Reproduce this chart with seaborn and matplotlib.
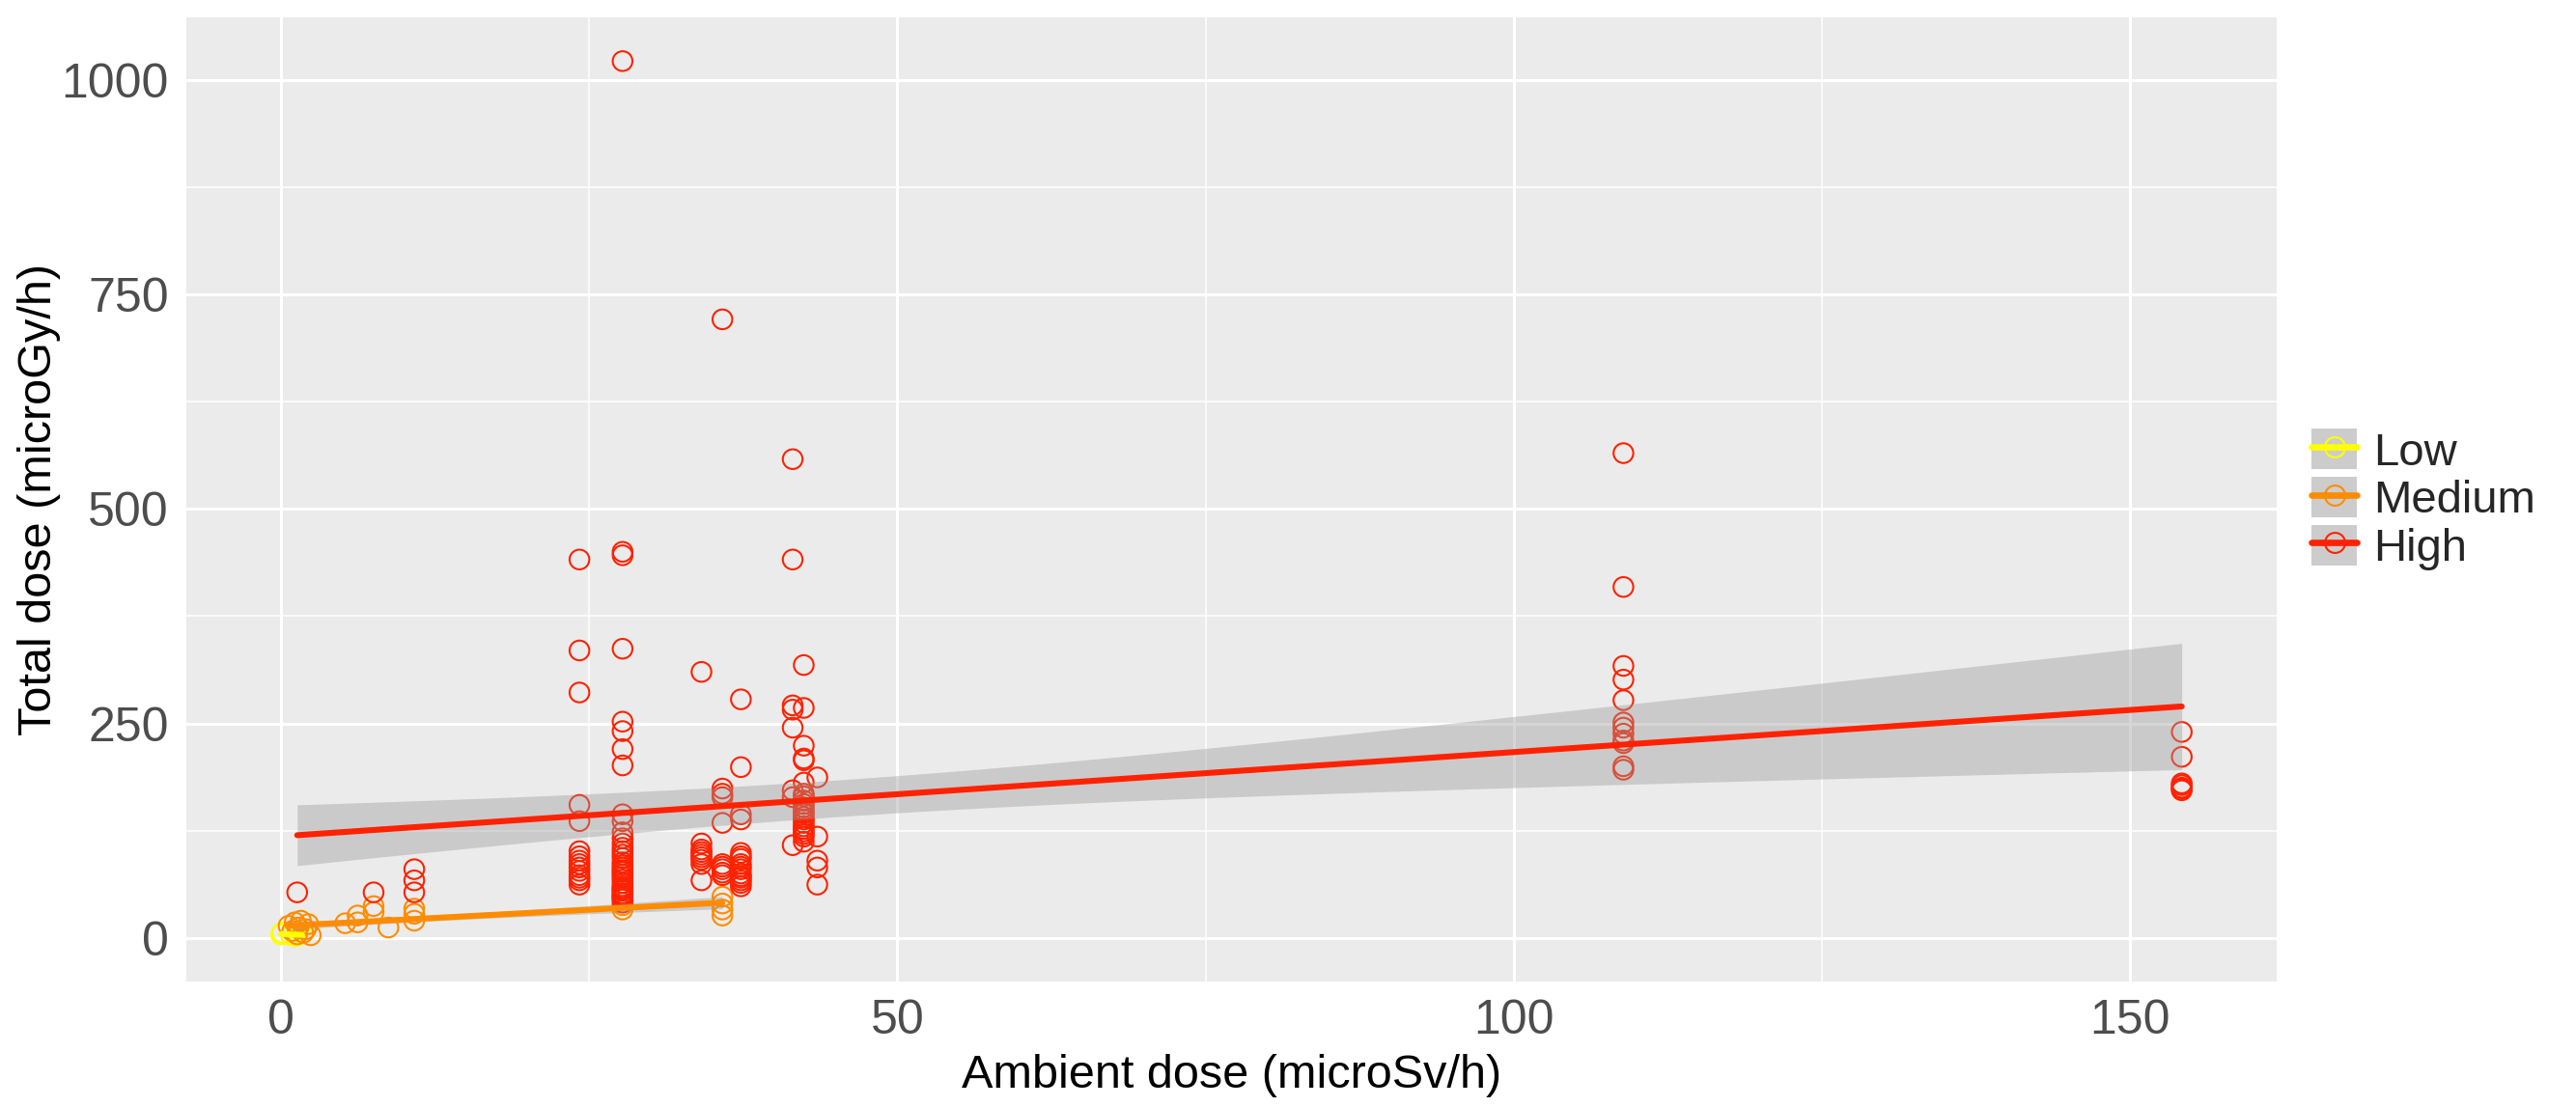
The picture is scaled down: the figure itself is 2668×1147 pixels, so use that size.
"""
Ambient dose vs total dose, coloured by dose category, with linear fits.
"""

import numpy as np
import pandas as pd
import matplotlib
matplotlib.use("Agg")
import matplotlib.pyplot as plt
from matplotlib.lines import Line2D
from matplotlib.patches import Patch
import seaborn as sns

# ---------------------------------------------------------------------------
# Data
# ---------------------------------------------------------------------------
LEVELS = ["Low", "Medium", "High"]
COLOURS = ["#FFFF00", "#FF8C00", "#FF2200"]

low_x = [0.0, 0.1, 0.8, 1.2, 1.7]
low_y = [4, 6, 3, 2, 5]

medium_x = [0.6, 0.9, 1.1, 1.3, 1.4, 1.6, 1.8, 2.0, 2.2, 2.4,
            5.2, 6.2, 6.2, 7.5, 7.5, 8.7, 10.8, 10.8, 10.8,
            27.7, 27.7, 27.7, 35.8, 35.8, 35.8, 35.8]
medium_y = [14, 8, 18, 4, 12, 20, 6, 10, 16, 3,
            17, 18, 26, 30, 37, 12, 20, 28, 34,
            33, 38, 45, 26, 33, 40, 48]

high_cols = [1.3, 7.5, 10.8, 24.2, 27.7, 34.1, 35.8, 37.3, 41.5, 42.4, 43.5, 108.9, 154.2]
high_vals = [
    [53],
    [53],
    [80, 67, 53],
    [441, 335, 286, 155, 136, 101, 95, 90, 86, 82, 78, 73, 70, 67, 62],
    [1022, 450, 446, 337, 252, 241, 220, 201, 144, 136, 123, 116, 110, 105,
     101, 97, 93, 88, 85, 82, 79, 77, 74, 71, 68, 64, 60, 58, 56, 55, 52,
     50, 49, 47, 45, 41],
    [310, 110, 103, 100, 97, 94, 91, 86, 67],
    [721, 174, 168, 164, 134, 86, 83, 80, 76, 73],
    [278, 199, 144, 138, 99, 95, 92, 86, 83, 80, 75, 72, 70, 67, 64, 60],
    [558, 441, 271, 266, 245, 172, 164, 108],
    [318, 268, 224, 209, 207, 181, 168, 165, 160, 156, 152, 148, 145, 141,
     138, 134, 130, 127, 124, 121, 118, 112],
    [187, 118, 90, 82, 62],
    [565, 409, 317, 301, 277, 251, 245, 238, 230, 227, 200, 196],
    [240, 211, 180, 178, 175, 174, 172],
]

X_TICKS = [0, 50, 100, 150]
Y_TICKS = [0, 250, 500, 750, 1000]

# ---------------------------------------------------------------------------
# Build table
# ---------------------------------------------------------------------------
high_x = [x for x, vals in zip(high_cols, high_vals) for _ in vals]
high_y = [v for vals in high_vals for v in vals]

df = pd.concat([
    pd.DataFrame({"ambient": low_x, "total": low_y, "level": "Low"}),
    pd.DataFrame({"ambient": medium_x, "total": medium_y, "level": "Medium"}),
    pd.DataFrame({"ambient": high_x, "total": high_y, "level": "High"}),
], ignore_index=True)

palette = dict(zip(LEVELS, COLOURS))


def t_quantile(df_, z=1.959964):
    # Cornish-Fisher approximation of the 97.5% Student t quantile
    return (z + (z**3 + z) / (4 * df_)
            + (5 * z**5 + 16 * z**3 + 3 * z) / (96 * df_**2)
            + (3 * z**7 + 19 * z**5 + 17 * z**3 - 15 * z) / (384 * df_**3))


def lm_band(x, y, n=100):
    x = np.asarray(x, float)
    y = np.asarray(y, float)
    b, a = np.polyfit(x, y, 1)
    resid = y - (a + b * x)
    dof = len(x) - 2
    s = np.sqrt(np.sum(resid**2) / dof)
    sxx = np.sum((x - x.mean())**2)
    grid = np.linspace(x.min(), x.max(), n)
    se = s * np.sqrt(1 / len(x) + (grid - x.mean())**2 / sxx)
    fit = a + b * grid
    t = t_quantile(dof)
    return grid, fit - t * se, fit + t * se


# ---------------------------------------------------------------------------
# Plot
# ---------------------------------------------------------------------------
sns.set_style("darkgrid", {"axes.facecolor": "#EBEBEB", "grid.color": "white"})
plt.rcParams["font.family"] = ["Liberation Sans", "DejaVu Sans"]

fig = plt.figure(figsize=(13.34, 5.735), dpi=200)
ax = fig.add_axes([0.0723, 0.1133, 0.8115, 0.871])

sns.scatterplot(data=df, x="ambient", y="total", hue="level", hue_order=LEVELS,
                palette=palette, s=54, linewidth=0.75, legend=False, ax=ax, zorder=3)
pts = ax.collections[-1]
pts.set_edgecolors(pts.get_facecolors())
pts.set_facecolors("none")

for lvl in LEVELS:
    sub = df[df["level"] == lvl]
    gx, lo, hi = lm_band(sub["ambient"], sub["total"])
    ax.fill_between(gx, lo, hi, color="#999999", alpha=0.4, linewidth=0, zorder=4)
    sns.regplot(data=sub, x="ambient", y="total", scatter=False, ci=None,
                color=palette[lvl], line_kws={"lw": 2.2, "zorder": 5}, ax=ax)

ax.set_xlim(-7.7, 161.9)
ax.set_ylim(-51, 1073)
ax.set_xticks(X_TICKS)
ax.set_yticks(Y_TICKS)
ax.set_xticks([25, 75, 125], minor=True)
ax.set_yticks([125, 375, 625, 875], minor=True)
ax.grid(which="major", color="white", lw=1.1)
ax.grid(which="minor", color="white", lw=0.55)
ax.set_axisbelow(True)
for sp in ax.spines.values():
    sp.set_visible(False)

ax.tick_params(which="major", length=3.5, width=0.7, color="#333333",
               labelsize=18, labelcolor="#4D4D4D", pad=3)
ax.tick_params(which="minor", length=0)
ax.set_xlabel("Ambient dose (microSv/h)", fontsize=17.5, color="black", labelpad=4)
ax.set_ylabel("Total dose (microGy/h)", fontsize=17.5, color="black")
ax.yaxis.set_label_coords(-0.06, 0.5)

handles = [(Patch(facecolor="#CCCCCC", edgecolor="none"),
            Line2D([], [], color=c, lw=2.4, marker="o", markersize=7.5,
                   markerfacecolor="none", markeredgecolor=c, markeredgewidth=0.75))
           for c in COLOURS]
ax.legend(handles, LEVELS, loc="center left", bbox_to_anchor=(1.008, 0.5),
          frameon=False, fontsize=17, handlelength=1.0, handleheight=1.0,
          labelspacing=0.05, handletextpad=0.35, borderaxespad=0)

fig.savefig("out.png", dpi=200)
